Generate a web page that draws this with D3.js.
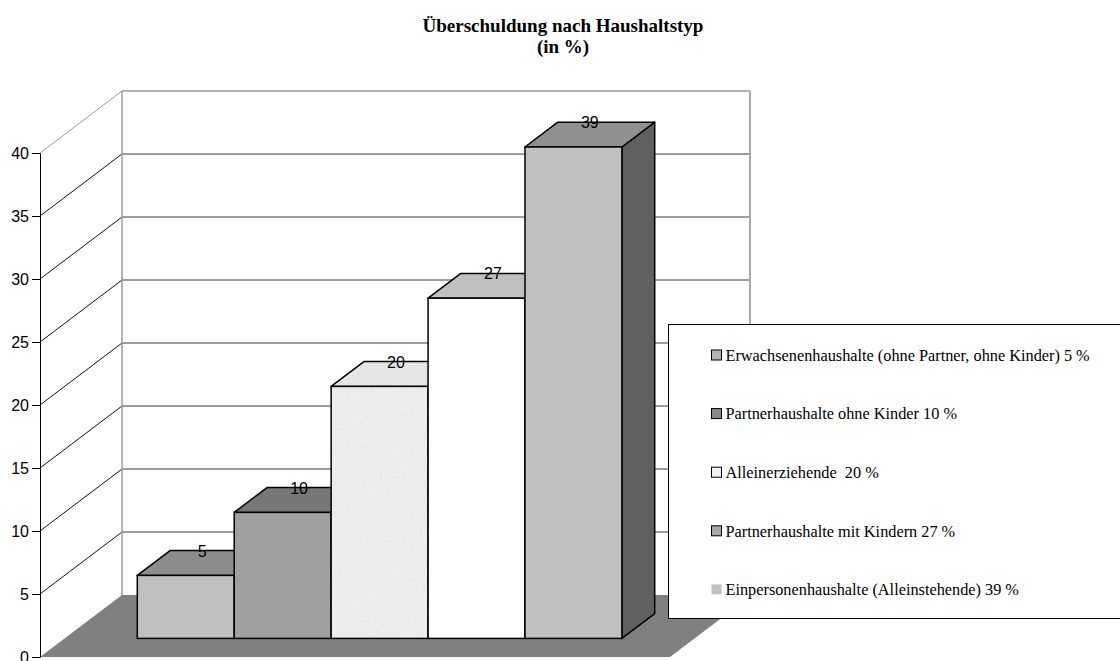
<!DOCTYPE html>
<html>
<head>
<meta charset="utf-8">
<script src="https://cdn.jsdelivr.net/npm/d3@7"></script>
<style>
  body { margin: 0; background: #fff; }
  svg { display: block; }
</style>
</head>
<body>
<svg id="chart" width="1120" height="661"></svg>
<script>
// data
const categories = [
  "Erwachsenenhaushalte (ohne Partner, ohne Kinder)",
  "Partnerhaushalte ohne Kinder",
  "Alleinerziehende ",
  "Partnerhaushalte mit Kindern",
  "Einpersonenhaushalte (Alleinstehende)"
];
const values = [5, 10, 20, 27, 39];
const yTicks = [0, 5, 10, 15, 20, 25, 30, 35, 40];
const titleLines = ["Überschuldung nach Haushaltstyp", "(in %)"];

const frontColors = ["#c0c0c0", "#a0a0a0", "#eeeeee", "#ffffff", "#c0c0c0"];
const topColors = ["#8c8c8c", "#777777", "#e6e6e6", "#c0c0c0", "#909090"];
const sideColors = ["#606060", "#606060", "#606060", "#606060", "#606060"];
const grainy = [false, false, true, false, false];
const legendColors = ["#b4b4b4", "#888888", "#f2f2f2", "#a8a8a8", "#c0c0c0"];

const svg = d3.select('#chart');

// grainy texture for the third bar
const defs = svg.append('defs');
const filt = defs.append('filter').attr('id', 'noise')
  .attr('x', 0).attr('y', 0).attr('width', 1).attr('height', 1);
filt.append('feTurbulence').attr('type', 'fractalNoise')
  .attr('baseFrequency', 0.3).attr('numOctaves', 3).attr('seed', 4).attr('result', 't');
filt.append('feColorMatrix').attr('in', 't').attr('type', 'matrix')
  .attr('values', '0 0 0 0 0.8  0 0 0 0 0.8  0 0 0 0 0.8  1.6 0 0 0 -0.6')
  .attr('result', 'c');
filt.append('feComposite').attr('in', 'c').attr('in2', 'SourceAlpha').attr('operator', 'in');

// 3d frame
const DX = 82, DY = -62;      // depth offset of back wall
const d0 = 0.3, dd = 0.4;     // bar sits from 30% to 70% of depth

const x = d3.scaleBand()
  .domain(categories)
  .range([40, 670])
  .paddingInner(0)
  .paddingOuter(0.75);

const y = d3.scaleLinear()
  .domain([0, 40])
  .range([657, 153]);

const g = svg.append('g');

// back wall gridlines
g.selectAll('line.grid')
  .data(yTicks.filter(d => d > 0))
  .enter().append('line')
  .attr('class', 'grid')
  .attr('x1', x.range()[0] + DX).attr('x2', x.range()[1] + DX - 2)
  .attr('y1', d => y(d) + DY).attr('y2', d => y(d) + DY)
  .attr('stroke', d => d === 40 ? '#9a9a9a' : '#3a3a3a')
  .attr('stroke-width', d => d === 40 ? 1.5 : 1);

// side wall lines
g.selectAll('line.side')
  .data(yTicks.filter(d => d > 0))
  .enter().append('line')
  .attr('class', 'side')
  .attr('x1', 40).attr('x2', 40 + DX)
  .attr('y1', d => y(d)).attr('y2', d => y(d) + DY)
  .attr('stroke', d => d === 40 ? '#9a9a9a' : '#111')
  .attr('stroke-width', 1);

// back wall edges
g.append('line')
  .attr('x1', 40 + DX).attr('x2', 40 + DX)
  .attr('y1', y(40) + DY).attr('y2', y(0) + DY)
  .attr('stroke', '#9a9a9a').attr('stroke-width', 1.5);
g.append('line')
  .attr('x1', 670 + DX - 2).attr('x2', 670 + DX - 2)
  .attr('y1', y(40) + DY).attr('y2', y(0) + DY)
  .attr('stroke', '#aaaaaa').attr('stroke-width', 2);

// floor
g.append('polygon')
  .attr('points', [
    [40, y(0)], [670, y(0)], [670 + DX, y(0) + DY], [40 + DX, y(0) + DY]
  ].map(p => p.join(',')).join(' '))
  .attr('fill', '#808080');

// y axis
const axis = g.append('g')
  .attr('transform', 'translate(40,0)')
  .call(d3.axisLeft(y).tickValues(yTicks).tickSize(8).tickPadding(3));
axis.select('.domain').attr('stroke', '#000');
axis.selectAll('.tick line').attr('stroke', '#000');
axis.selectAll('.tick text')
  .attr('fill', '#000')
  .style('font-family', "'Liberation Sans', Arial, sans-serif")
  .style('font-size', '16px');

// bars
const bw = x.bandwidth();
const barData = values.map((v, i) => {
  const x0 = x(categories[i]) + d0 * DX;
  const yt = y(v) + d0 * DY;
  const yb = y(0) + d0 * DY;
  return {v, i, x0, yt, yb};
});
const pts = arr => arr.map(p => p.join(',')).join(' ');

function sidePts(b) {
  return pts([[b.x0 + bw, b.yt], [b.x0 + bw + dd * DX, b.yt + dd * DY],
              [b.x0 + bw + dd * DX, b.yb + dd * DY], [b.x0 + bw, b.yb]]);
}
function topPts(b) {
  return pts([[b.x0, b.yt], [b.x0 + bw, b.yt],
              [b.x0 + bw + dd * DX, b.yt + dd * DY], [b.x0 + dd * DX, b.yt + dd * DY]]);
}

const bars = g.selectAll('g.bar')
  .data(barData)
  .enter().append('g')
  .attr('class', 'bar');

bars.append('polygon')
  .attr('points', sidePts)
  .attr('fill', b => sideColors[b.i])
  .attr('stroke', '#000').attr('stroke-width', 1.5).attr('stroke-linejoin', 'round');

bars.append('polygon')
  .attr('points', topPts)
  .attr('fill', b => topColors[b.i]);
bars.filter(b => grainy[b.i]).append('polygon')
  .attr('points', topPts)
  .attr('fill', '#000')
  .attr('filter', 'url(#noise)');
bars.append('polygon')
  .attr('points', topPts)
  .attr('fill', 'none')
  .attr('stroke', '#000').attr('stroke-width', 1.5).attr('stroke-linejoin', 'round');

bars.append('rect')
  .attr('x', b => b.x0).attr('y', b => b.yt)
  .attr('width', bw).attr('height', b => b.yb - b.yt)
  .attr('fill', b => frontColors[b.i]);
bars.filter(b => grainy[b.i]).append('rect')
  .attr('x', b => b.x0).attr('y', b => b.yt)
  .attr('width', bw).attr('height', b => b.yb - b.yt)
  .attr('fill', '#000')
  .attr('filter', 'url(#noise)');
bars.append('rect')
  .attr('x', b => b.x0).attr('y', b => b.yt)
  .attr('width', bw).attr('height', b => b.yb - b.yt)
  .attr('fill', 'none')
  .attr('stroke', '#000').attr('stroke-width', 1.5);

// value labels
g.selectAll('text.val')
  .data(barData)
  .enter().append('text')
  .attr('class', 'val')
  .attr('x', b => b.x0 + bw / 2 + 0.2 * DX)
  .attr('y', b => b.yt + dd * DY + 6)
  .attr('text-anchor', 'middle')
  .style('font-family', "'Liberation Sans', Arial, sans-serif")
  .style('font-size', '16px')
  .text(b => b.v);

// title
svg.selectAll('text.title')
  .data(titleLines)
  .enter().append('text')
  .attr('class', 'title')
  .attr('x', 563)
  .attr('y', (d, i) => 32 + i * 21)
  .attr('text-anchor', 'middle')
  .style('font-family', "'Liberation Serif', 'Times New Roman', serif")
  .style('font-weight', 'bold')
  .style('font-size', '19px')
  .text(d => d);

// legend
const leg = svg.append('g').attr('transform', 'translate(668.5,324.5)');
leg.append('rect')
  .attr('width', 470).attr('height', 294)
  .attr('fill', '#fff').attr('stroke', '#000').attr('stroke-width', 1);

const items = leg.selectAll('g.item')
  .data(categories)
  .enter().append('g')
  .attr('class', 'item')
  .attr('transform', (d, i) => `translate(43, ${30.5 + i * 58.6})`);

items.append('rect')
  .attr('x', 0).attr('y', -5)
  .attr('width', 10).attr('height', 10)
  .attr('fill', (d, i) => legendColors[i])
  .attr('stroke', (d, i) => i === 4 ? 'none' : '#000')
  .attr('stroke-width', 1);

items.append('text')
  .attr('x', 14)
  .attr('dy', '0.35em')
  .style('font-family', "'Liberation Serif', 'Times New Roman', serif")
  .style('font-size', '16.3px')
  .style('white-space', 'pre')
  .text((d, i) => `${d} ${values[i]} %`);
</script>
</body>
</html>
